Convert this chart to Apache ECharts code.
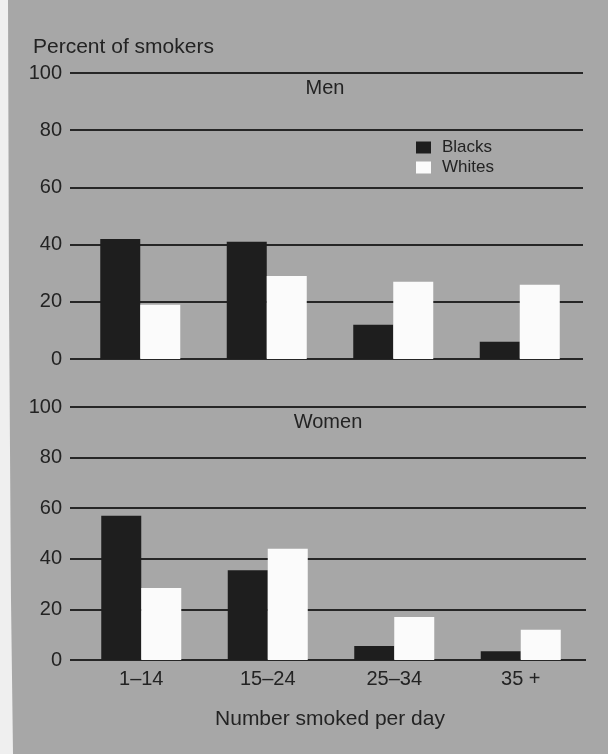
<!DOCTYPE html>
<html>
<head>
<meta charset="utf-8">
<script src="https://cdn.jsdelivr.net/npm/echarts@6/dist/echarts.min.js"></script>
<style>
  html, body { margin: 0; padding: 0; background: #a7a7a7; }
  #chart { width: 608px; height: 754px; }
</style>
</head>
<body>
<div id="chart"></div>
<script>
  // data
  const categories = ['1–14', '15–24', '25–34', '35 +']
  const menBlacks = [42, 41, 12, 6]
  const menWhites = [19, 29, 27, 26]
  const womenBlacks = [57, 35.5, 5.5, 3.5]
  const womenWhites = [28.5, 44, 17, 12]
  const yMin = 0
  const yMax = 100
  const yStep = 20

  const font = "'Liberation Sans', Arial, sans-serif"
  const ink = '#232323'
  const darkBar = '#1e1e1e'
  const lightBar = '#fbfbfb'

  const myChart = echarts.init(document.getElementById('chart'))

  // axis with the grid lines and tick labels (wide grid)
  function lineYAxis(gridIndex) {
    return {
      type: 'value', gridIndex: gridIndex, min: yMin, max: yMax, interval: yStep,
      axisLine: { show: false }, axisTick: { show: false },
      axisLabel: { fontSize: 20, color: ink, fontFamily: font, margin: 8 },
      splitLine: { lineStyle: { color: '#262626', width: 2 } }
    }
  }
  // hidden value axis for the bars grid
  function barYAxis(gridIndex) {
    return { type: 'value', gridIndex: gridIndex, min: yMin, max: yMax, show: false }
  }

  const option = {
    backgroundColor: '#a7a7a7',
    animation: false,
    textStyle: { fontFamily: font },
    grid: [
      { left: 70, right: 25, top: 73, height: 286 },   // men lines
      { left: 77, right: 25, top: 73, height: 286 },   // men bars
      { left: 70, right: 22, top: 407, height: 253 },  // women lines
      { left: 78, right: 24, top: 407, height: 253 }   // women bars
    ],
    xAxis: [
      { type: 'value', gridIndex: 0, show: false },
      { type: 'category', gridIndex: 1, data: categories, show: false },
      { type: 'value', gridIndex: 2, show: false },
      {
        type: 'category', gridIndex: 3, data: categories,
        axisLine: { show: false }, axisTick: { show: false },
        axisLabel: { fontSize: 20, color: ink, fontFamily: font, margin: 9 }
      }
    ],
    yAxis: [lineYAxis(0), barYAxis(1), lineYAxis(2), barYAxis(3)],
    legend: {
      data: ['Blacks', 'Whites'],
      orient: 'vertical',
      left: 416, top: 139,
      padding: 0,
      icon: 'rect',
      itemWidth: 15, itemHeight: 12, itemGap: 3,
      textStyle: { fontSize: 17, color: ink, fontFamily: font, padding: [0, 0, 0, 6] }
    },
    graphic: [
      // light scan edge on the left
      { type: 'polygon', shape: { points: [[0, 0], [8, 0], [9, 300], [11, 600], [13, 754], [0, 754]] }, style: { fill: '#efefef' }, silent: true },
      { type: 'text', x: 33, y: 47, style: { text: 'Percent of smokers', font: '21px ' + font, fill: ink, verticalAlign: 'middle' } },
      { type: 'text', x: 325, y: 88, style: { text: 'Men', font: '20px ' + font, fill: ink, align: 'center', verticalAlign: 'middle' } },
      { type: 'text', x: 328, y: 422, style: { text: 'Women', font: '20px ' + font, fill: ink, align: 'center', verticalAlign: 'middle' } },
      { type: 'text', x: 330, y: 719, style: { text: 'Number smoked per day', font: '21px ' + font, fill: ink, align: 'center', verticalAlign: 'middle' } }
    ],
    series: [
      { name: 'Blacks', type: 'bar', xAxisIndex: 1, yAxisIndex: 1, data: menBlacks, barWidth: 40, barGap: '0%', itemStyle: { color: darkBar } },
      { name: 'Whites', type: 'bar', xAxisIndex: 1, yAxisIndex: 1, data: menWhites, barWidth: 40, barGap: '0%', itemStyle: { color: lightBar } },
      { name: 'Blacks', type: 'bar', xAxisIndex: 3, yAxisIndex: 3, data: womenBlacks, barWidth: 40, barGap: '0%', itemStyle: { color: darkBar } },
      { name: 'Whites', type: 'bar', xAxisIndex: 3, yAxisIndex: 3, data: womenWhites, barWidth: 40, barGap: '0%', itemStyle: { color: lightBar } }
    ]
  }

  myChart.setOption(option)
</script>
</body>
</html>
